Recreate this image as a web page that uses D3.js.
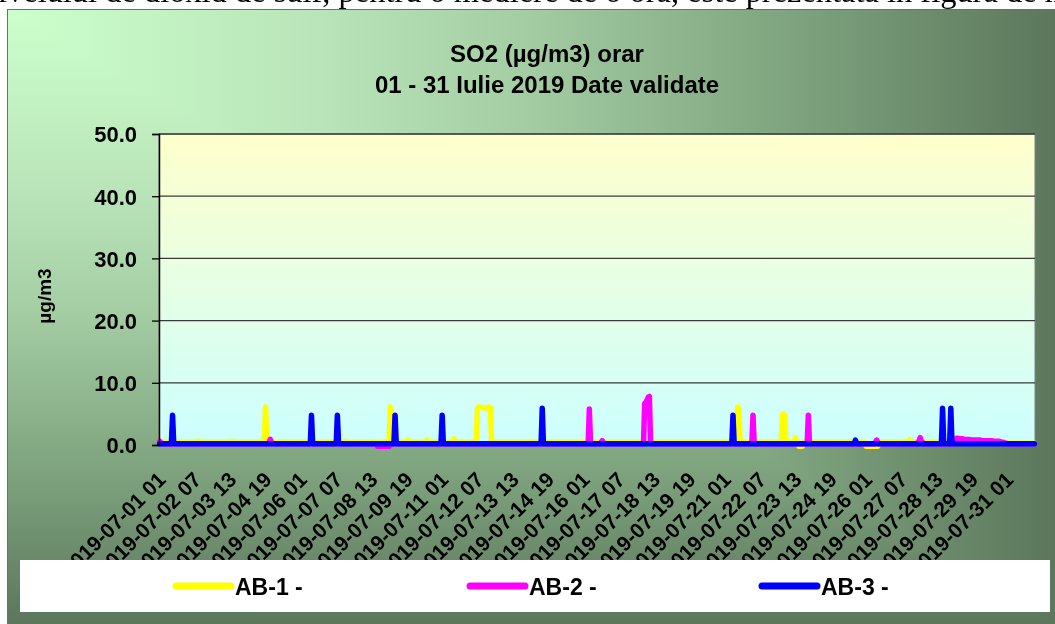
<!DOCTYPE html>
<html><head><meta charset="utf-8">
<script src="https://cdn.jsdelivr.net/npm/d3@7"></script>
<style>body{margin:0;background:#fff;overflow:hidden} svg{display:block}</style>
</head><body>
<svg id="c" width="1055" height="624"></svg>
<script>
// ---- DATA ----
const seriesNames = ["AB-1 -", "AB-2 -", "AB-3 -"];
const seriesColors = ["#ffff00", "#ff00ff", "#0000ff"];
const yTicks = [0, 10, 20, 30, 40, 50];
const tickLabels = ["2019-07-01 01","2019-07-02 07","2019-07-03 13","2019-07-04 19","2019-07-06 01","2019-07-07 07","2019-07-08 13","2019-07-09 19","2019-07-11 01","2019-07-12 07","2019-07-13 13","2019-07-14 19","2019-07-16 01","2019-07-17 07","2019-07-18 13","2019-07-19 19","2019-07-21 01","2019-07-22 07","2019-07-23 13","2019-07-24 19","2019-07-26 01","2019-07-27 07","2019-07-28 13","2019-07-29 19","2019-07-31 01"];
const days = ["01","02","03","04","05","06","07","08","09","10","11","12","13","14","15","16","17","18","19","20","21","22","23","24","25","26","27","28","29","30","31"];
const hours = ["01","02","03","04","05","06","07","08","09","10","11","12","13","14","15","16","17","18","19","20","21","22","23","24"];

// hourly values, one row per day (24 h)
const AB1 = [
0.6,0.5,0.5,0.5,0.5,0.5, 0.5,0.5,0.5,0.5,0.5,0.5, 0.5,0.5,0.5,0.5,0.5,0.5, 0.5,0.5,0.5,0.5,0.5,0.5,
0.5,0.5,0.5,0.5,0.5,0.5, 0.5,0.5,0.6,0.6,0.5,0.5, 0.5,0.5,0.5,0.5,0.5,0.5, 0.5,0.5,0.5,0.5,0.5,0.5,
0.5,0.5,0.5,0.5,0.5,0.5, 0.5,0.5,0.5,0.5,0.5,0.5, 0.5,0.5,0.6,0.5,0.5,0.5, 0.5,0.5,0.5,0.5,0.5,0.5,
0.5,0.5,0.5,0.5,0.5,0.5, 0.5,0.5,0.5,0.5,0.5,0.5, 0.5,0.5,0.5,0.5,0.5,0.5, 6.1,0.6,0.5,0.5,0.5,0.5,
0.5,0.5,0.4,0.4,0.5,0.5, 0.5,0.5,0.5,0.5,0.5,0.5, 0.5,0.5,0.5,0.5,0.5,0.5, 0.5,0.5,0.5,0.5,0.5,0.5,
0.5,0.5,0.5,0.5,0.5,0.5, 0.5,0.5,0.5,0.5,0.5,0.5, 0.5,0.5,0.5,0.5,0.5,0.5, 0.5,0.5,0.5,0.5,0.5,0.5,
0.5,0.5,0.5,0.5,0.5,0.5, 0.5,0.5,0.5,0.5,0.5,0.5, 0.5,0.5,0.6,0.5,0.5,0.5, 0.5,0.5,0.5,0.5,0.5,0.5,
0.5,0.5,0.5,0.5,0.5,0.5, 0.5,0.5,0.5,0.5,0.5,0.5, 0.5,0.5,0.5,0.5,0.5,0.4, 0.4,0.4,0.5,0.5,0.5,0.5,
0.5,0.5,0.5,0.5,6.1,0.5, 0.5,0.5,0.5,0.5,0.5,0.5, 0.5,0.5,0.5,0.5,0.5,0.5, 0.5,0.8,0.5,0.5,0.5,0.5,
0.5,0.5,0.5,0.5,0.5,0.5, 0.5,0.5,0.5,0.5,0.5,0.8, 0.5,0.5,0.5,0.5,0.5,0.5, 0.5,0.5,0.5,0.5,0.5,0.5,
0.5,0.5,0.5,0.5,0.5,0.5, 0.5,0.5,0.5,0.5,1.0,0.5, 0.5,0.5,0.5,0.5,0.5,0.5, 0.5,0.5,0.5,0.5,0.5,0.5,
0.5,0.5,0.5,0.5,0.5,0.5, 6.0,6.1,6.1,6.1,6.0,6.0, 6.0,6.0,6.0,6.1,6.1,6.0, 0.5,0.5,0.5,0.5,0.5,0.5,
0.5,0.5,0.5,0.5,0.5,0.5, 0.5,0.5,0.5,0.5,0.5,0.5, 0.5,0.5,0.5,0.5,0.5,0.5, 0.5,0.5,0.5,0.5,0.5,0.5,
0.5,0.5,0.5,0.5,0.5,0.5, 0.5,0.5,0.5,0.5,0.5,0.5, 0.5,0.5,0.5,0.5,0.5,0.5, 0.5,0.5,0.5,0.5,0.5,0.5,
0.5,0.5,0.5,0.5,0.5,0.5, 0.5,0.5,0.5,0.5,0.5,0.5, 0.5,0.5,0.5,0.5,0.5,0.5, 0.5,0.5,0.5,0.5,0.5,0.5,
0.5,0.5,0.5,0.5,0.5,0.5, 0.5,0.5,0.5,0.5,0.5,0.5, 0.5,0.5,0.5,0.5,0.5,0.5, 0.5,0.5,0.5,0.5,0.5,0.5,
0.5,0.5,0.5,0.5,0.5,0.5, 0.5,0.5,0.5,0.5,0.5,0.5, 0.5,0.5,0.5,0.5,0.5,0.5, 0.5,0.5,0.5,0.5,0.5,0.5,
0.5,0.5,0.5,0.5,0.5,0.5, 0.5,0.5,0.5,0.5,0.5,0.5, 0.5,0.5,0.5,0.5,0.5,0.5, 0.5,0.5,0.5,0.5,0.5,0.5,
0.5,0.5,0.5,0.5,0.5,0.5, 0.5,0.5,0.5,0.5,0.5,0.5, 0.5,0.5,0.5,0.5,0.5,0.5, 0.5,0.5,0.5,0.5,0.5,0.5,
0.5,0.5,0.5,0.5,0.5,0.5, 0.5,0.5,0.5,0.5,0.5,0.5, 0.5,0.5,0.5,0.5,0.5,0.5, 0.5,0.5,0.5,0.5,0.5,0.5,
0.5,0.5,0.5,0.5,0.5,0.5, 0.5,0.5,0.5,0.5,0.5,6.1, 5.9,0.5,0.5,0.5,0.5,0.5, 0.5,0.5,0.5,0.5,0.5,0.5,
0.5,0.5,0.5,0.5,0.5,0.5, 0.5,0.5,0.5,0.5,0.5,0.5, 0.5,0.5,0.5,0.5,0.5,0.5, 0.5,0.5,0.5,0.5,0.5,0.5,
0.5,4.9,5.0,4.8,0.5,0.5, 0.5,0.5,0.5,0.5,0.5,0.5, 1.2,0.5,0.5,-0.2,-0.2,-0.2, -0.2,0.5,0.5,0.5,0.5,0.5,
0.5,0.5,0.5,0.5,0.5,0.5, 0.5,0.5,0.5,0.5,0.5,0.5, 0.5,0.5,0.5,0.5,0.5,0.5, 0.5,0.5,0.5,0.5,0.5,0.5,
0.5,0.5,0.5,0.5,0.5,0.5, 0.5,0.5,0.5,0.5,0.5,0.5, 0.5,0.5,0.5,0.5,0.5,0.5, 0.5,0.5,0.5,0.5,0.5,0.5,
-0.2,-0.2,-0.2,-0.2,-0.2,-0.2, -0.2,-0.2,-0.2,-0.2,-0.2,0.5, 0.5,0.5,0.5,0.5,0.5,0.5, 0.5,0.5,0.5,0.5,0.5,0.5,
0.5,0.5,0.5,0.5,0.5,0.5, 0.5,0.5,0.5,0.5,0.5,0.5, 0.5,0.9,0.5,0.5,0.5,0.5, 0.5,0.5,0.5,0.5,0.5,0.5,
0.5,0.5,0.5,0.5,0.5,0.5, 0.5,0.5,0.5,0.5,0.5,0.5, 0.5,0.5,0.5,0.5,0.5,0.5, 0.5,0.5,0.5,0.5,0.5,0.5,
0.5,0.5,0.5,0.5,0.5,0.5, 0.5,0.5,0.5,0.5,0.5,0.5, 0.5,0.5,0.5,0.5,0.5,0.5, 0.5,0.5,0.5,0.5,0.5,0.5,
0.5,0.5,0.5,0.5,0.5,0.5, 0.5,0.5,0.5,0.5,0.5,0.8, 0.5,0.5,0.5,0.5,0.5,0.5, 0.5,0.5,0.5,0.5,0.5,0.5,
0.3,0.3,0.3,0.3,0.3,0.3, 0.3,0.3,0.3,0.3,0.3,0.3, 0.3,0.3,0.3,0.3,0.3,0.3, 0.3,0.3,0.3,0.3,0.3,0.3
];
const AB2 = [
0.6,0.4,0.2,0.2,0.2,0.2, 0.2,0.2,0.2,0.2,0.2,0.2, 0.2,0.2,0.2,0.2,0.2,0.2, 0.2,0.2,0.2,0.2,0.2,0.2,
0.2,0.2,0.2,0.2,0.2,0.2, 0.2,0.2,0.2,0.2,0.2,0.2, 0.2,0.2,0.2,0.2,0.2,0.2, 0.2,0.2,0.2,0.2,0.2,0.2,
0.2,0.2,0.2,0.2,0.2,0.2, 0.2,0.2,0.2,0.2,0.2,0.2, 0.2,0.2,0.2,0.2,0.2,0.2, 0.2,0.2,0.2,0.2,0.2,0.2,
0.2,0.2,0.2,0.2,0.2,0.2, 0.2,0.2,0.2,0.2,0.2,0.2, 0.2,0.2,0.2,0.2,0.2,0.2, 0.2,0.2,0.2,0.4,0.9,0.4,
0.2,0.2,0.2,0.2,0.2,0.2, 0.2,0.2,0.2,0.2,0.2,0.2, 0.2,0.2,0.2,0.2,0.2,0.2, 0.2,0.2,0.2,0.2,0.2,0.2,
0.2,0.2,0.2,0.2,0.2,0.2, 0.2,0.2,0.2,0.2,0.2,0.2, 0.2,0.2,0.2,0.2,0.2,0.2, 0.2,0.2,0.2,0.2,0.2,0.2,
0.2,0.2,0.2,0.2,0.2,0.2, 0.2,0.2,0.2,0.2,0.2,0.2, 0.2,0.2,0.2,0.2,0.2,0.2, 0.2,0.2,0.2,0.2,0.2,0.2,
0.2,0.2,0.2,0.2,0.2,0.2, 0.2,0.2,0.2,0.2,0.2,0.2, 0.2,0.2,0.2,0.2,0.2,-0.2, -0.2,-0.2,-0.2,-0.2,-0.2,-0.2,
-0.2,-0.2,-0.2,-0.2,0.2,0.2, 0.2,0.2,0.2,0.2,0.2,0.2, 0.2,0.2,0.2,0.2,0.2,0.2, 0.2,0.2,0.2,0.2,0.2,0.2,
0.2,0.2,0.2,0.2,0.2,0.2, 0.2,0.2,0.2,0.2,0.2,0.2, 0.2,0.2,0.2,0.2,0.2,0.2, 0.2,0.2,0.2,0.2,0.2,0.2,
0.2,0.2,0.2,0.2,0.2,0.2, 0.2,0.2,0.2,0.2,0.2,0.2, 0.2,0.2,0.2,0.2,0.2,0.2, 0.2,0.2,0.2,0.2,0.2,0.2,
0.2,0.2,0.2,0.2,0.2,0.2, 0.2,0.2,0.2,0.2,0.2,0.2, 0.2,0.2,0.2,0.2,0.2,0.2, 0.2,0.2,0.2,0.2,0.2,0.2,
0.2,0.2,0.2,0.2,0.2,0.2, 0.2,0.2,0.2,0.2,0.2,0.2, 0.2,0.2,0.2,0.2,0.2,0.2, 0.2,0.2,0.2,0.2,0.2,0.2,
0.2,0.2,0.2,0.2,0.2,0.2, 0.2,0.2,0.2,0.2,0.2,0.2, 0.2,0.2,0.2,0.2,0.2,0.2, 0.2,0.2,0.2,0.2,0.2,0.2,
0.2,0.2,0.2,0.2,0.2,0.2, 0.2,0.2,0.2,0.2,0.2,0.2, 0.2,0.2,0.2,0.2,0.2,0.2, 0.2,0.2,0.2,0.2,0.2,0.2,
0.2,0.2,0.2,0.2,0.2,5.8, 0.2,0.2,0.2,0.2,0.2,0.2, 0.2,0.2,0.2,0.4,0.7,0.4, 0.2,0.2,0.2,0.2,0.2,0.2,
0.2,0.2,0.2,0.2,0.2,0.2, 0.2,0.2,0.2,0.2,0.2,0.2, 0.2,0.2,0.2,0.2,0.2,0.2, 0.2,0.2,0.2,0.2,0.2,0.2,
0.2,0.2,0.2,0.2,6.7,6.8, 7.2,7.7,7.8,0.2,0.2,0.2, 0.2,0.2,0.2,0.2,0.2,0.2, 0.2,0.2,0.2,0.2,0.2,0.2,
0.2,0.2,0.2,0.2,0.2,0.2, 0.2,0.2,0.2,0.2,0.2,0.2, 0.2,0.2,0.2,0.2,0.2,0.2, 0.2,0.2,0.2,0.2,0.2,0.2,
0.2,0.2,0.2,0.2,0.2,0.2, 0.2,0.2,0.2,0.2,0.2,0.2, 0.2,0.2,0.2,0.2,0.2,0.2, 0.2,0.2,0.2,0.2,0.2,0.2,
0.2,0.2,0.2,0.2,0.2,0.2, 0.2,0.2,0.2,0.2,0.2,0.2, 0.2,0.2,0.2,0.2,0.2,0.2, 0.2,0.2,0.2,0.2,0.2,0.2,
4.8,0.2,0.2,0.2,0.2,0.2, 0.2,0.2,0.2,0.2,0.2,0.2, 0.2,0.2,0.2,0.2,0.2,0.2, 0.2,0.2,0.2,0.2,0.2,0.2,
0.2,0.2,0.2,0.2,0.2,0.2, 0.2,0.2,0.2,0.2,0.2,0.2, 0.2,0.2,0.2,0.2,0.2,0.2, 0.2,0.2,0.2,0.2,0.2,4.8,
0.2,0.2,0.2,0.2,0.2,0.2, 0.2,0.2,0.2,0.2,0.2,0.2, 0.2,0.2,0.2,0.2,0.2,0.2, 0.2,0.2,0.2,0.2,0.2,0.2,
0.2,0.2,0.2,0.2,0.2,0.2, 0.2,0.2,0.2,0.2,0.2,0.2, 0.2,0.2,0.2,0.2,0.2,0.2, 0.2,0.2,0.2,0.2,0.2,0.2,
0.2,0.2,0.2,0.2,0.2,0.2, 0.2,0.2,0.4,0.8,0.4,0.2, 0.2,0.2,0.2,0.2,0.2,0.2, 0.2,0.2,0.2,0.2,0.2,0.2,
0.2,0.2,0.2,0.2,0.2,0.2, 0.2,0.2,0.2,0.2,0.2,0.2, 0.2,0.2,0.2,0.2,0.2,0.2, 0.2,0.2,0.4,0.6,1.2,0.6,
0.4,0.2,0.2,0.2,0.2,0.2, 0.2,0.2,0.2,0.2,0.2,0.2, 0.2,0.2,0.2,0.2,0.2,0.2, 0.2,0.2,0.2,0.2,0.2,0.2,
0.2,0.2,0.2,0.2,0.2,1.1, 1.1,1.0,1.0,1.0,1.0,0.9, 0.9,0.9,0.9,0.9,0.9,0.8, 0.8,0.8,0.8,0.8,0.8,0.8,
0.8,0.8,0.7,0.7,0.7,0.7, 0.7,0.7,0.7,0.7,0.7,0.7, 0.6,0.6,0.6,0.6,0.6,0.6, 0.5,0.5,0.4,0.4,0.3,0.3,
0.2,0.2,0.2,0.2,0.2,0.2, 0.2,0.2,0.2,0.2,0.2,0.2, 0.2,0.2,0.2,0.2,0.2,0.2, 0.2,0.2,0.2,0.2,0.2,0.2
];
const AB3 = [
0.2,0.2,0.2,0.2,0.2,0.2, 0.2,0.2,0.2,0.2,0.2,4.8, 0.2,0.2,0.2,0.2,0.2,0.2, 0.2,0.2,0.2,0.2,0.2,0.2,
0.2,0.2,0.2,0.2,0.2,0.2, 0.2,0.2,0.2,0.2,0.2,0.2, 0.2,0.2,0.2,0.2,0.2,0.2, 0.2,0.2,0.2,0.2,0.2,0.2,
0.2,0.2,0.2,0.2,0.2,0.2, 0.2,0.2,0.2,0.2,0.2,0.2, 0.2,0.2,0.2,0.2,0.2,0.2, 0.2,0.2,0.2,0.2,0.2,0.2,
0.2,0.2,0.2,0.2,0.2,0.2, 0.2,0.2,0.2,0.2,0.2,0.2, 0.2,0.2,0.2,0.2,0.2,0.2, 0.2,0.2,0.2,0.2,0.2,0.2,
0.2,0.2,0.2,0.2,0.2,0.2, 0.2,0.2,0.2,0.2,0.2,0.2, 0.2,0.2,0.2,0.2,0.2,0.2, 0.2,0.2,0.2,0.2,0.2,0.2,
0.2,0.2,0.2,0.2,0.2,0.2, 0.2,0.2,0.2,4.8,0.2,0.2, 0.2,0.2,0.2,0.2,0.2,0.2, 0.2,0.2,0.2,0.2,0.2,0.2,
0.2,0.2,0.2,0.2,0.2,0.2, 0.2,4.8,0.2,0.2,0.2,0.2, 0.2,0.2,0.2,0.2,0.2,0.2, 0.2,0.2,0.2,0.2,0.2,0.2,
0.2,0.2,0.2,0.2,0.2,0.2, 0.2,0.2,0.2,0.2,0.2,0.2, 0.2,0.2,0.2,0.2,0.2,0.2, 0.2,0.2,0.2,0.2,0.2,0.2,
0.2,0.2,0.2,0.2,0.2,0.2, 0.2,0.2,4.8,0.2,0.2,0.2, 0.2,0.2,0.2,0.2,0.2,0.2, 0.2,0.2,0.2,0.2,0.2,0.2,
0.2,0.2,0.2,0.2,0.2,0.2, 0.2,0.2,0.2,0.2,0.2,0.2, 0.2,0.2,0.2,0.2,0.2,0.2, 0.2,0.2,0.2,0.2,0.2,0.2,
4.8,0.2,0.2,0.2,0.2,0.2, 0.2,0.2,0.2,0.2,0.2,0.2, 0.2,0.2,0.2,0.2,0.2,0.2, 0.2,0.2,0.2,0.2,0.2,0.2,
0.2,0.2,0.2,0.2,0.2,0.2, 0.2,0.2,0.2,0.2,0.2,0.2, 0.2,0.2,0.2,0.2,0.2,0.2, 0.2,0.2,0.2,0.2,0.2,0.2,
0.2,0.2,0.2,0.2,0.2,0.2, 0.2,0.2,0.2,0.2,0.2,0.2, 0.2,0.2,0.2,0.2,0.2,0.2, 0.2,0.2,0.2,0.2,0.2,0.2,
0.2,0.2,0.2,0.2,0.2,0.2, 0.2,0.2,0.2,0.2,0.2,0.2, 0.2,5.9,0.2,0.2,0.2,0.2, 0.2,0.2,0.2,0.2,0.2,0.2,
0.2,0.2,0.2,0.2,0.2,0.2, 0.2,0.2,0.2,0.2,0.2,0.2, 0.2,0.2,0.2,0.2,0.2,0.2, 0.2,0.2,0.2,0.2,0.2,0.2,
0.2,0.2,0.2,0.2,0.2,0.2, 0.2,0.2,0.2,0.2,0.2,0.2, 0.2,0.2,0.2,0.2,0.2,0.2, 0.2,0.2,0.2,0.2,0.2,0.2,
0.2,0.2,0.2,0.2,0.2,0.2, 0.2,0.2,0.2,0.2,0.2,0.2, 0.2,0.2,0.2,0.2,0.2,0.2, 0.2,0.2,0.2,0.2,0.2,0.2,
0.2,0.2,0.2,0.2,0.2,0.2, 0.2,0.2,0.2,0.2,0.2,0.2, 0.2,0.2,0.2,0.2,0.2,0.2, 0.2,0.2,0.2,0.2,0.2,0.2,
0.2,0.2,0.2,0.2,0.2,0.2, 0.2,0.2,0.2,0.2,0.2,0.2, 0.2,0.2,0.2,0.2,0.2,0.2, 0.2,0.2,0.2,0.2,0.2,0.2,
0.2,0.2,0.2,0.2,0.2,0.2, 0.2,0.2,0.2,0.2,0.2,0.2, 0.2,0.2,0.2,0.2,0.2,0.2, 0.2,0.2,0.2,0.2,0.2,0.2,
0.2,0.2,0.2,0.2,0.2,0.2, 0.2,4.8,0.2,0.2,0.2,0.2, 0.2,0.2,0.2,0.2,0.2,0.2, 0.2,0.2,0.2,0.2,0.2,0.2,
0.2,0.2,0.2,0.2,0.2,0.2, 0.2,0.2,0.2,0.2,0.2,0.2, 0.2,0.2,0.2,0.2,0.2,0.2, 0.2,0.2,0.2,0.2,0.2,0.2,
0.2,0.2,0.2,0.2,0.2,0.2, 0.2,0.2,0.2,0.2,0.2,0.2, 0.2,0.2,0.2,0.2,0.2,0.2, 0.2,0.2,0.2,0.2,0.2,0.2,
0.2,0.2,0.2,0.2,0.2,0.2, 0.2,0.2,0.2,0.2,0.2,0.2, 0.2,0.2,0.2,0.2,0.2,0.2, 0.2,0.2,0.2,0.2,0.2,0.2,
0.2,0.2,0.2,0.2,0.2,0.2, 0.2,0.2,0.2,0.2,0.2,0.2, 0.2,0.2,0.2,0.8,0.2,0.2, 0.2,0.2,0.2,0.2,0.2,0.2,
0.2,0.2,0.2,0.2,0.2,0.2, 0.2,0.2,0.2,0.2,0.2,0.2, 0.2,0.2,0.2,0.2,0.2,0.2, 0.2,0.2,0.2,0.2,0.2,0.2,
0.2,0.2,0.2,0.2,0.2,0.2, 0.2,0.2,0.2,0.2,0.2,0.2, 0.2,0.2,0.2,0.2,0.2,0.2, 0.2,0.2,0.2,0.2,0.2,0.2,
0.2,0.2,0.2,0.2,0.2,0.2, 0.2,0.2,0.2,0.2,0.2,0.2, 0.2,0.2,0.2,0.2,0.2,5.9, 0.2,0.2,0.2,0.2,0.2,0.2,
5.9,0.2,0.2,0.2,0.2,0.2, 0.2,0.2,0.2,0.2,0.2,0.2, 0.2,0.2,0.2,0.2,0.2,0.2, 0.2,0.2,0.2,0.2,0.2,0.2,
0.2,0.2,0.2,0.2,0.2,0.2, 0.2,0.2,0.2,0.2,0.2,0.2, 0.2,0.2,0.2,0.2,0.2,0.2, 0.2,0.2,0.2,0.2,0.2,0.2,
0.2,0.2,0.2,0.2,0.2,0.2, 0.2,0.2,0.2,0.2,0.2,0.2, 0.2,0.2,0.2,0.2,0.2,0.2, 0.2,0.2,0.2,0.2,0.2,0.2
];
const seriesValues = [AB1, AB2, AB3];

// category labels: "2019-07-DD HH"
const categories = [];
days.forEach(d => hours.forEach(h => categories.push("2019-07-" + d + " " + h)));

// ---- DRAW ----
const W = 1055, H = 624;
const svg = d3.select("#c");
const defs = svg.append("defs");

const bgStops = [[0, "#ccffcc"], [0.3, "#b9e4b9"], [0.5, "#a3cca3"], [0.72, "#82a882"], [1, "#5c775c"]];
const gh = defs.append("linearGradient").attr("id", "gh").attr("x1", 0).attr("x2", 1).attr("y1", 0).attr("y2", 0);
bgStops.forEach(s => gh.append("stop").attr("offset", s[0]).attr("stop-color", s[1]));
const gv = defs.append("linearGradient").attr("id", "gv").attr("x1", 0).attr("x2", 0).attr("y1", 0).attr("y2", 1);
bgStops.forEach(s => gv.append("stop").attr("offset", s[0]).attr("stop-color", s[1]));
const gp = defs.append("linearGradient").attr("id", "gp").attr("x1", 0).attr("x2", 0).attr("y1", 0).attr("y2", 1);
[[0, "#ffffcc"], [1, "#ccffff"]].forEach(s => gp.append("stop").attr("offset", s[0]).attr("stop-color", s[1]));

// page text line (partly cut at top, as in the source document)
const pageStr = "nivelului de dioxid de sulf, pentru o mediere de o oră, este prezentată în figura de mai jos:";
const pt = svg.append("text").attr("x", 0).attr("y", 2)
  .attr("font-family", "'Liberation Serif','Times New Roman',serif").attr("font-size", 27)
  .attr("fill", "#000").text(pageStr);
{
  const mIdx = pageStr.indexOf("de mai") + 3;
  const node = pt.node();
  const span = node.getSubStringLength(1, mIdx - 1);
  const fs = 27 * 1047 / span;
  pt.attr("font-size", fs);
  const first = node.getSubStringLength(0, 1);
  pt.attr("x", -2 - first);
}

// chart area background
const cg = svg.append("g");
cg.append("rect").attr("x", 7).attr("y", 9).attr("width", W - 7).attr("height", H - 9).attr("fill", "url(#gh)");
cg.append("rect").attr("x", 7).attr("y", 9).attr("width", W - 7).attr("height", H - 9).attr("fill", "url(#gv)")
  .style("mix-blend-mode", "darken");
svg.append("rect").attr("x", 7.5).attr("y", 9.5).attr("width", W).attr("height", H).attr("fill", "none")
  .attr("stroke", "#6f6f6f").attr("stroke-width", 1);

// scales
const x = d3.scalePoint().domain(categories).range([159, 1035]).padding(0.5);
const y = d3.scaleLinear().domain([0, 50]).range([445, 134]);

// plot area
svg.append("rect").attr("x", 159).attr("y", 134).attr("width", 876).attr("height", 311)
  .attr("fill", "url(#gp)").attr("stroke", "#808080").attr("stroke-width", 1);

// gridlines
svg.append("g").selectAll("line").data(yTicks.filter(v => v > 0)).join("line")
  .attr("x1", 159).attr("x2", 1035).attr("y1", d => y(d)).attr("y2", d => y(d))
  .attr("stroke", "#3a3a3a").attr("stroke-width", 1.3);

// title
const title = svg.append("text").attr("text-anchor", "middle").attr("font-family", "'Liberation Sans',Arial,sans-serif")
  .attr("font-weight", "bold").attr("font-size", 24).attr("fill", "#000");
title.append("tspan").attr("x", 547).attr("y", 62).text("SO2 (µg/m3) orar");
title.append("tspan").attr("x", 547).attr("y", 93).text("01 - 31 Iulie 2019 Date validate");

// y-axis title
svg.append("text").attr("transform", "translate(51,296) rotate(-90)").attr("text-anchor", "middle")
  .attr("font-family", "'Liberation Sans',Arial,sans-serif").attr("font-weight", "bold").attr("font-size", 19)
  .attr("fill", "#000").text("µg/m3");

// series lines
const line = d3.line().x((d, i) => x(categories[i])).y(d => y(d));
svg.append("g").selectAll("path").data(seriesValues).join("path")
  .attr("d", d => line(d)).attr("fill", "none")
  .attr("stroke", (d, i) => seriesColors[i]).attr("stroke-width", 5.5)
  .attr("stroke-linejoin", "round").attr("stroke-linecap", "round");

// y axis
const ya = svg.append("g").attr("transform", "translate(159,0)")
  .call(d3.axisLeft(y).tickValues(yTicks).tickFormat(d3.format(".1f")).tickSize(7).tickPadding(15));
ya.select(".domain").attr("stroke", "#000").attr("stroke-width", 1.5);
ya.selectAll(".tick line").attr("stroke", "#000").attr("stroke-width", 1.3);
ya.selectAll(".tick text").attr("font-family", "'Liberation Sans',Arial,sans-serif").attr("font-weight", "bold")
  .attr("font-size", 22).attr("fill", "#000").attr("dy", "0.36em");

// x axis
const xa = svg.append("g").attr("transform", "translate(0,445)")
  .call(d3.axisBottom(x).tickValues(tickLabels).tickSize(0).tickSizeOuter(0));
xa.select(".domain").remove();
xa.selectAll(".tick text").attr("font-family", "'Liberation Sans',Arial,sans-serif").attr("font-weight", "bold")
  .attr("font-size", 21).attr("fill", "#000").attr("text-anchor", "end")
  .attr("y", 0).attr("dy", 0).attr("transform", "translate(7,36) rotate(-45)");

// legend
svg.append("rect").attr("x", 20).attr("y", 560).attr("width", 1030).attr("height", 52).attr("fill", "#fff");
const legX = [176, 470, 762];
const lg = svg.append("g").selectAll("g").data(seriesNames).join("g")
  .attr("transform", (d, i) => "translate(" + legX[i] + ",586)");
lg.append("line").attr("x1", 0).attr("x2", 55).attr("y1", 0).attr("y2", 0)
  .attr("stroke", (d, i) => seriesColors[i]).attr("stroke-width", 7).attr("stroke-linecap", "round");
lg.append("text").attr("x", 59).attr("y", 8.5).attr("font-family", "'Liberation Sans',Arial,sans-serif")
  .attr("font-weight", "bold").attr("font-size", 23).attr("fill", "#000").text(d => d);
</script>
</body></html>
